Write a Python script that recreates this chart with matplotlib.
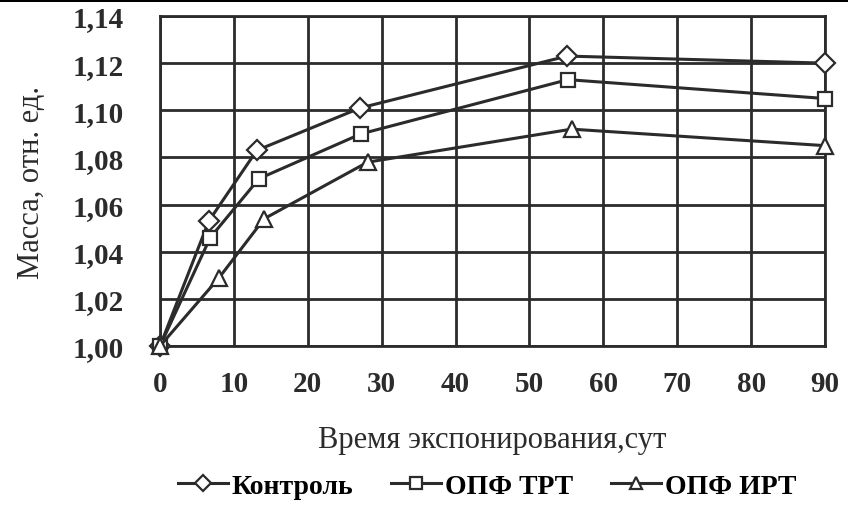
import numpy as np
import matplotlib.pyplot as plt
from matplotlib.patches import Rectangle

# Время экспонирования, сут
days_k = [0, 6.6, 13.1, 27.1, 55.1, 90]
days_t = [0, 6.8, 13.4, 27.2, 55.2, 90]
days_i = [0, 8.0, 14.1, 28.1, 55.7, 90]

# Масса, отн. ед.
mass_k = [1.000, 1.053, 1.083, 1.101, 1.123, 1.120]
mass_t = [1.000, 1.046, 1.071, 1.090, 1.113, 1.105]
mass_i = [1.000, 1.029, 1.054, 1.078, 1.092, 1.085]

x_ticks = [0, 10, 20, 30, 40, 50, 60, 70, 80, 90]
y_ticks = [1.00, 1.02, 1.04, 1.06, 1.08, 1.10, 1.12, 1.14]
y_labels = ['1,00', '1,02', '1,04', '1,06', '1,08', '1,10', '1,12', '1,14']

plt.rcParams['font.family'] = ['Liberation Serif', 'DejaVu Serif']
dark = '#2b2b2b'

fig = plt.figure(figsize=(8.48, 5.06), dpi=100)
ax = fig.add_axes([0.1887, 0.3142, 0.9729 - 0.1887, 0.9664 - 0.3142])

style = dict(color=dark, lw=2.2, markerfacecolor='white', markeredgecolor=dark,
             markeredgewidth=1.6, clip_on=False, zorder=3)
ax.plot(days_k, mass_k, marker='D', ms=10, label='Контроль', **style)
ax.plot(days_t, mass_t, marker='s', ms=10, label='ОПФ ТРТ', **style)
ax.plot(days_i, mass_i, marker='^', ms=11, label='ОПФ ИРТ', **style)

ax.set_xlim(0, 90)
ax.set_ylim(1.00, 1.14)
ax.set_xticks(x_ticks)
ax.set_yticks(y_ticks)
ax.set_yticklabels(y_labels)
ax.tick_params(length=0, labelsize=21, colors=dark)
ax.tick_params(axis='y', pad=26)
ax.tick_params(axis='x', pad=17)
for lbl in ax.get_xticklabels() + ax.get_yticklabels():
    lbl.set_fontweight('bold')
ax.grid(True, color=dark, lw=2.0)
for s in ax.spines.values():
    s.set_color(dark)
    s.set_linewidth(2.0)

ax.set_xlabel('Время экспонирования,сут', fontsize=22, color=dark)
ax.set_ylabel('Масса, отн. ед.', fontsize=22, color=dark)
ax.xaxis.set_label_coords(0.5, (347 - 426) / 330)
ax.yaxis.set_label_coords((46 - 160) / 665, 0.5)

fig.legend(loc='center', bbox_to_anchor=(487 / 848, 1 - 487 / 506), ncol=3,
           frameon=False, handlelength=1.8, handletextpad=0.15, markerscale=0.85,
           columnspacing=1.35, prop={'weight': 'bold', 'size': 20})

# тёмная полоса по верхнему краю
fig.add_artist(Rectangle((0, 1 - 3 / 506), 1, 3 / 506, transform=fig.transFigure,
                         color='black', lw=0))

fig.savefig('out.png', dpi=100)
